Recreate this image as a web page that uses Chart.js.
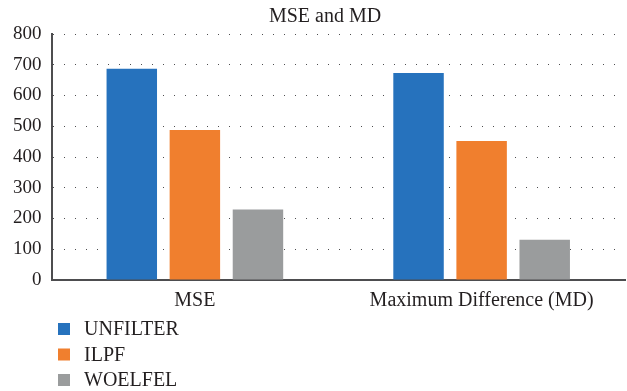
<!DOCTYPE html>
<html>
<head>
<meta charset="utf-8">
<script src="https://cdn.jsdelivr.net/npm/chart.js@4"></script>
<style>
  html, body { margin: 0; padding: 0; background: #fff; }
  #wrap { width: 627px; height: 391px; position: relative; }
</style>
</head>
<body>
<div id="wrap"><canvas id="errChart"></canvas></div>
<script>
// Данные графика
const chartTitle = 'MSE and MD';
const categories = ['MSE', 'Maximum Difference (MD)'];
const seriesNames = ['UNFILTER', 'ILPF', 'WOELFEL'];
const unfilter = [687, 673];
const ilpf = [488, 452];
const woelfel = [229, 131];
const yTicks = [0, 100, 200, 300, 400, 500, 600, 700, 800];

const colors = ['#2672bd', '#f07f2e', '#9a9c9d'];
const serif = '"Liberation Serif", serif';
const textColor = '#231f20';

// Заголовок и легенда (столбиком под графиком)
const titleAndLegend = {
    id: 'titleAndLegend',
    afterDraw(chart) {
        const ctx = chart.ctx;
        ctx.save();
        ctx.fillStyle = textColor;
        ctx.font = '20px ' + serif;
        ctx.textAlign = 'center';
        ctx.textBaseline = 'alphabetic';
        ctx.fillText(chartTitle, 325, 22);

        ctx.textAlign = 'left';
        ctx.textBaseline = 'middle';
        chart.data.datasets.forEach((ds, i) => {
            const y = 329 + i * 25.5;
            ctx.fillStyle = ds.backgroundColor;
            ctx.fillRect(58, y - 6, 12, 12);
            ctx.fillStyle = textColor;
            ctx.fillText(ds.label, 84, y + 1);
        });
        ctx.restore();
    }
};

const ctx = document.getElementById('errChart').getContext('2d');
new Chart(ctx, {
    type: 'bar',
    data: {
        labels: categories,
        datasets: [
            { label: seriesNames[0], data: unfilter, backgroundColor: colors[0] },
            { label: seriesNames[1], data: ilpf, backgroundColor: colors[1] },
            { label: seriesNames[2], data: woelfel, backgroundColor: colors[2] }
        ]
    },
    options: {
        responsive: true,
        maintainAspectRatio: false,
        animation: false,
        categoryPercentage: 0.66,
        barPercentage: 0.8,
        layout: { padding: { left: 3, right: 2, top: 34, bottom: 77 } },
        plugins: {
            legend: { display: false },
            tooltip: { enabled: false },
            title: { display: false }
        },
        scales: {
            x: {
                grid: { display: false },
                border: { display: true, color: '#4d4d4f', width: 2 },
                ticks: {
                    color: textColor,
                    font: { family: serif, size: 20 },
                    padding: 1
                }
            },
            y: {
                min: 0,
                max: 800,
                afterBuildTicks: axis => {
                    axis.ticks = yTicks.map(v => ({ value: v }));
                },
                grid: {
                    color: '#4d4d4f',
                    lineWidth: 1,
                    tickLength: 0,
                    drawTicks: false
                },
                border: { display: true, color: '#4d4d4f', width: 2, dash: [1, 10] },
                ticks: {
                    color: textColor,
                    font: { family: serif, size: 19 },
                    padding: 10
                }
            }
        }
    },
    plugins: [titleAndLegend]
});
</script>
</body>
</html>
